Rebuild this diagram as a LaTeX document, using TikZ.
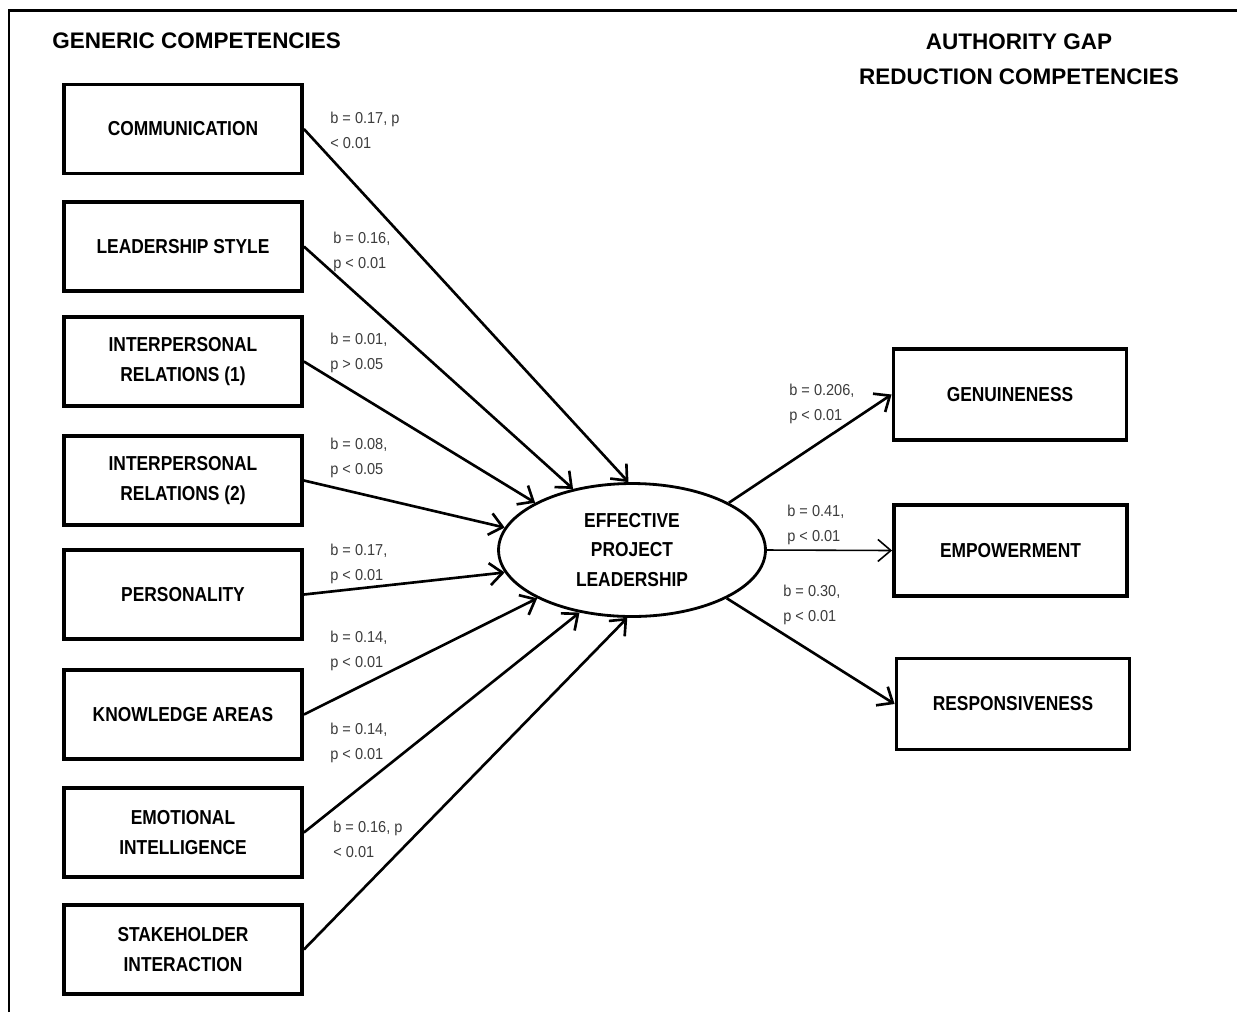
\documentclass[tikz,border=0pt]{standalone}
\usepackage{fontspec}
\setmainfont{Liberation Sans}
\newfontfamily\boxfont{Liberation Sans}[FakeStretch=0.86]
\newfontfamily\lblfont{Liberation Sans}[FakeStretch=0.92]
\usetikzlibrary{shapes.geometric}
\usetikzlibrary{arrows.meta}
\definecolor{lblgray}{RGB}{60,60,60}

\tikzset{
  compbox/.style={draw, line width=2.2pt, minimum width=4.76cm, minimum height=1.78cm,
    inner sep=0pt, align=center, font=\boxfont\bfseries\fontsize{11.5}{17}\selectfont},
  gapbox/.style={compbox, minimum width=4.66cm, minimum height=1.82cm},
  latent/.style={draw, ellipse, line width=1.6pt, minimum width=5.34cm, minimum height=2.66cm,
    inner sep=0pt, align=center, font=\boxfont\bfseries\fontsize{11.5}{17}\selectfont},
  coef/.style={anchor=west, inner sep=0pt, align=left, text=lblgray,
    font=\lblfont\fontsize{9}{14.2}\selectfont},
  heading/.style={inner sep=0pt, align=center, font=\bfseries\fontsize{12.8}{19.9}\selectfont},
  path/.style={line width=1.5pt, -{Straight Barb[length=2.6mm,width=4.4mm]}}
}

\begin{document}
\begin{tikzpicture}[x=0.02cm, y=-0.02cm]
     \useasboundingbox (0,0) rectangle (1237,1012);
     \draw [line width=1.7pt] (9,1012) -- (9,10) -- (1237,10);

     \node [heading, anchor=west] (hgen) at (52,41) {GENERIC COMPETENCIES};
     \node [heading] (hgap) at (1019,59) {AUTHORITY GAP\\REDUCTION COMPETENCIES};

     % generic competencies
     \node [compbox] (comm) at (183,129) {COMMUNICATION};
     \node [compbox] (lead) at (183,246.5) {LEADERSHIP STYLE};
     \node [compbox] (ipr1) at (183,361.5) {INTERPERSONAL\\RELATIONS (1)};
     \node [compbox] (ipr2) at (183,480.5) {INTERPERSONAL\\RELATIONS (2)};
     \node [compbox] (pers) at (183,594.5) {PERSONALITY};
     \node [compbox] (know) at (183,714.5) {KNOWLEDGE AREAS};
     \node [compbox] (emot) at (183,832.5) {EMOTIONAL\\INTELLIGENCE};
     \node [compbox] (stak) at (183,949.5) {STAKEHOLDER\\INTERACTION};

     \node [latent] (epl) at (632,550) {EFFECTIVE\\PROJECT\\LEADERSHIP};

     % authority gap reduction competencies
     \node [gapbox] (genu) at (1010,394.5) {GENUINENESS};
     \node [gapbox] (empo) at (1010.5,550.5) {EMPOWERMENT};
     \node [gapbox] (resp) at (1013,704) {RESPONSIVENESS};

     \draw [path] (comm.east) -- (epl.93);
     \draw [path] (lead.east) -- (epl.134);
     \draw [path] (ipr1.east) -- (epl.154);
     \draw [path] (ipr2.east) -- (epl.170);
     \draw [path] (pers.east) -- (epl.190);
     \draw [path] (know.east) -- (epl.207);
     \draw [path] (emot.east) -- (epl.230);
     \draw [path] (stak.east) -- (epl.266);

     \draw [path] (epl.26.6) -- (genu.west);
     \draw [path, line width=0.9pt] (epl.east) -- (empo.west);
     \draw [path] (epl.-27.5) -- (resp.west);

     \node [coef] (c1) at (330,130) {b = 0.17, p\\< 0.01};
     \node [coef] (c2) at (333,252) {b = 0.16,\\p < 0.01};
     \node [coef] (c3) at (330,353) {b = 0.01,\\p > 0.05};
     \node [coef] (c4) at (330,458) {b = 0.08,\\p < 0.05};
     \node [coef] (c5) at (330,564) {b = 0.17,\\p < 0.01};
     \node [coef] (c6) at (330,651) {b = 0.14,\\p < 0.01};
     \node [coef] (c7) at (330,743) {b = 0.14,\\p < 0.01};
     \node [coef] (c8) at (333,839) {b = 0.16, p\\< 0.01};
     \node [coef] (c9) at (789,404) {b = 0.206,\\p < 0.01};
     \node [coef] (c10) at (787,525) {b = 0.41,\\p < 0.01};
     \node [coef] (c11) at (783,605) {b = 0.30,\\p < 0.01};
\end{tikzpicture}
\end{document}
